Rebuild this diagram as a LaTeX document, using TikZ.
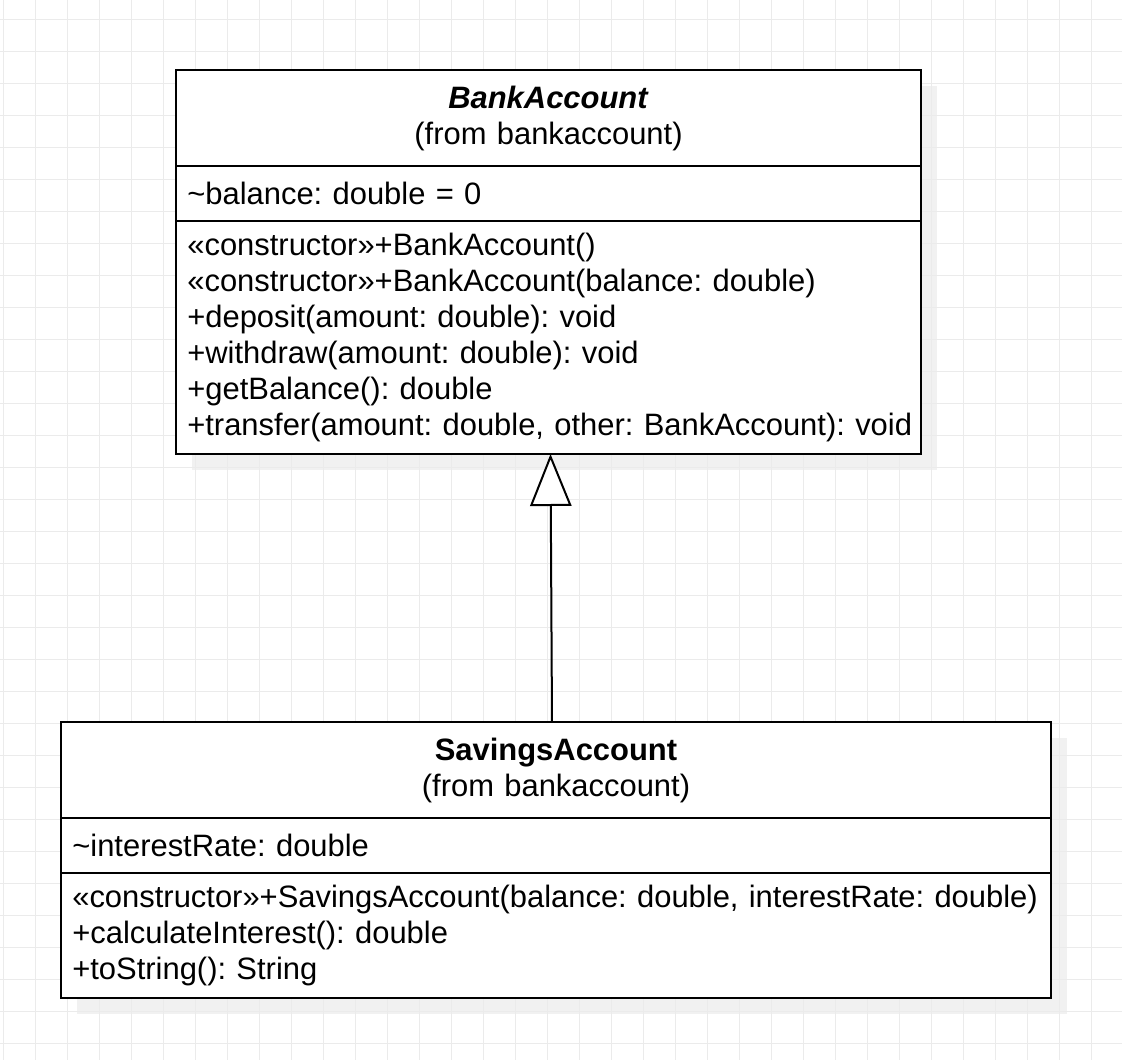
\documentclass[tikz,border=0pt]{standalone}
\usepackage{fontspec}
\setmainfont{Liberation Sans}
\usetikzlibrary{arrows.meta,positioning,backgrounds}
\definecolor{gridgrey}{HTML}{EBEBEB}
\definecolor{shadowgrey}{HTML}{F1F1F1}
\frenchspacing

\begin{document}
\begin{tikzpicture}[x=0.75pt,y=-0.75pt]
	\tikzset{compartment/.style = {draw, line width=1.5pt, fill=white, inner xsep=8.5pt, inner ysep=0pt, outer sep=0pt, font=\fontsize{23.2}{27}\selectfont}}
	\tikzset{classhead/.style = {compartment, align=center, minimum height=72pt}}
	\tikzset{classattr/.style = {compartment, align=left, minimum height=41.25pt}}
	\tikzset{classops/.style = {compartment, align=left}}
	\tikzset{inherit/.style = {-{Triangle[length=39pt,width=31pt,fill=white]}, line width=1.5pt}}
	\tikzset{gridline/.style = {gridgrey, line width=0.75pt}}
	\useasboundingbox (0,0) rectangle (1122,1060);

	% BankAccount
	\node[classhead, text width=541.75pt, anchor=north] (bahead) at (548.5,70) {\textbf{\textit{BankAccount}}\\(from bankaccount)};
	\node[classattr, text width=541.75pt, below=0pt of bahead] (baattr) {\textasciitilde balance: double = 0};
	\node[classops, text width=541.75pt, minimum height=174.75pt, below=0pt of baattr] (baops) {«constructor»+BankAccount()\\
		«constructor»+BankAccount(balance: double)\\
		+deposit(amount: double): void\\
		+withdraw(amount: double): void\\
		+getBalance(): double\\
		\mbox{+transfer(amount: double, other: BankAccount): void}};

	% SavingsAccount
	\node[classhead, text width=725.5pt, anchor=north] (sahead) at (556,722) {\textbf{SavingsAccount}\\(from bankaccount)};
	\node[classattr, text width=725.5pt, below=0pt of sahead] (saattr) {\textasciitilde interestRate: double};
	\node[classops, text width=725.5pt, minimum height=93.75pt, below=0pt of saattr] (saops) {\mbox{«constructor»+SavingsAccount(balance: double, interestRate: double)}\\
		+calculateInterest(): double\\
		+toString(): String};

	% edges
	\draw[inherit] ([xshift=-3pt]sahead.north) -- ([xshift=1.5pt]baops.south);

	% background
	\begin{scope}[on background layer]
		\fill[shadowgrey] ([shift={(16,16)}]bahead.north west) rectangle ([shift={(16,16)}]baops.south east);
		\fill[shadowgrey] ([shift={(16,16)}]sahead.north west) rectangle ([shift={(16,16)}]saops.south east);
		\foreach \gx in {0,...,34} \draw[gridline] (3.3+32*\gx,0) -- (3.3+32*\gx,1060);
		\foreach \gy in {0,...,32} \draw[gridline] (0,19+32*\gy) -- (1122,19+32*\gy);
	\end{scope}
\end{tikzpicture}
\end{document}
